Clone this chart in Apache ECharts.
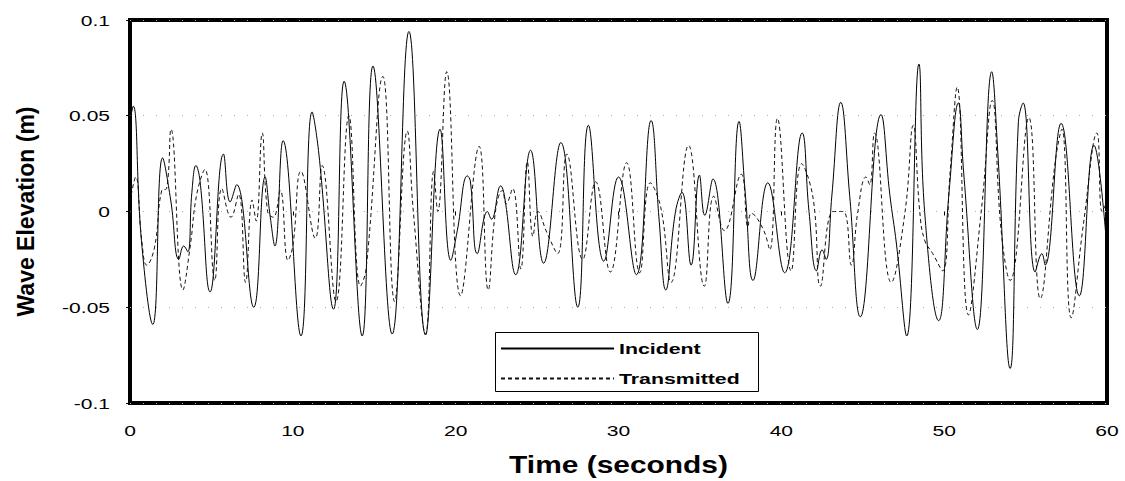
<!DOCTYPE html>
<html>
<head>
<meta charset="utf-8">
<script src="https://cdn.jsdelivr.net/npm/echarts@6/dist/echarts.min.js"></script>
<style>
html,body{margin:0;padding:0;background:#fff;}
#chart{width:1125px;height:481px;}
</style>
</head>
<body>
<div id="chart"></div>
<script>
// ---- data (time in seconds, wave elevation in m) ----
const xTicks = [0, 10, 20, 30, 40, 50, 60];
const yTicks = [-0.1, -0.05, 0, 0.05, 0.1];
const seriesNames = ['Incident', 'Transmitted'];

const incident = [
  [0.0,0.048],[0.2,0.055],[0.7,-0.015],[1.4,-0.059],[2.0,0.028],[2.5,0.006],[3.0,-0.025],[3.3,-0.018],
  [3.55,-0.021],[3.8,0.010],[4.05,0.024],[4.3,0.016],[4.92,-0.042],[5.74,0.030],[6.15,0.005],[6.55,0.014],
  [7.6,-0.050],[8.3,0.018],[8.6,-0.002],[8.9,-0.018],[9.4,0.037],[10.5,-0.065],[11.18,0.052],[11.6,0.030],
  [12.5,-0.051],[13.15,0.068],[14.26,-0.065],[14.92,0.076],[16.1,-0.064],[17.13,0.094],[18.15,-0.0645],
  [19.04,0.043],[19.7,-0.0255],[20.1,-0.010],[20.72,0.0186],[20.9,0.016],[21.33,-0.022],[21.95,0.0],
  [22.2,-0.004],[22.77,0.0134],[23.0,0.008],[23.69,-0.033],[24.6,0.032],[25.4,-0.027],[26.46,0.036],
  [27.5,-0.050],[28.15,0.045],[29.1,-0.026],[30.0,0.018],[31.1,-0.033],[32.0,0.0475],[32.5,-0.005],
  [32.9,-0.041],[33.5,0.0],[33.9,0.010],[34.46,-0.028],[34.97,0.019],[35.3,-0.002],[35.8,0.017],
  [36.72,-0.048],[37.4,0.047],[37.8,0.008],[38.26,-0.036],[39.17,0.015],[40.2,-0.032],[41.28,0.041],
  [41.7,0.0],[42.16,-0.031],[42.5,-0.020],[42.75,-0.025],[43.1,0.008],[43.65,0.057],[44.2,0.008],
  [44.85,-0.055],[46.12,0.0506],[46.66,0.009],[47.07,-0.017],[47.7,-0.065],[48.45,0.077],[48.8,0.0],
  [49.66,-0.057],[50.3,0.010],[50.87,0.0567],[51.2,0.020],[52.04,-0.0616],[52.92,0.073],[53.3,0.030],
  [54.05,-0.082],[54.56,0.047],[54.85,0.0567],[55.59,-0.0316],[56.0,-0.022],[56.2,-0.028],[57.18,0.046],
  [58.3,-0.044],[59.2,0.0345],[60.0,-0.020]
];

const transmitted = [
  [0.0,0.005],[0.35,0.018],[0.72,-0.015],[1.03,-0.028],[1.5,-0.019],[1.95,0.011],[2.25,0.012],[2.52,0.043],
  [3.25,-0.041],[3.7,-0.018],[4.1,0.009],[4.6,0.022],[5.2,-0.036],[5.64,0.012],[6.2,-0.003],[6.67,0.009],
  [7.1,-0.037],[7.5,0.006],[7.75,-0.005],[8.12,0.041],[8.45,0.0],[8.8,-0.003],[9.23,0.011],[9.7,-0.0255],
  [10.0,-0.018],[10.5,0.021],[11.38,-0.014],[11.8,0.024],[12.65,-0.047],[13.44,0.050],[14.15,-0.039],
  [14.5,-0.030],[15.53,0.0705],[16.25,-0.047],[17.03,0.042],[17.4,0.0],[18.15,-0.064],[18.65,0.021],
  [18.9,0.0],[19.45,0.073],[20.3,-0.044],[21.44,0.034],[22.0,-0.041],[22.46,0.001],[22.87,0.011],
  [23.1,0.004],[23.5,0.012],[24.0,-0.030],[24.4,0.026],[24.75,-0.013],[25.05,0.0],[25.6,-0.011],
  [26.26,-0.022],[26.83,0.030],[27.8,-0.025],[28.6,0.0155],[29.5,-0.0316],[30.5,0.0255],[31.3,-0.032],
  [31.95,0.015],[32.6,0.002],[33.23,-0.037],[34.3,0.0345],[35.27,-0.039],[35.85,0.008],[36.5,-0.010],
  [37.54,0.0195],[37.95,-0.008],[38.15,-0.001],[38.87,-0.009],[39.29,-0.020],[39.76,0.0486],[40.6,-0.031],
  [41.24,0.025],[41.95,0.007],[42.4,-0.039],[43.18,0.0],[43.8,0.0],[44.3,-0.028],[44.7,0.0],[45.2,0.018],
  [45.43,0.014],[45.72,0.041],[46.75,-0.037],[47.6,0.0],[48.1,0.045],[48.5,0.0],[48.8,-0.015],[49.3,-0.022],
  [49.9,-0.031],[50.36,0.020],[50.8,0.065],[51.49,-0.054],[52.3,0.002],[52.95,0.058],[53.5,-0.010],
  [54.05,-0.036],[55.2,0.049],[55.9,-0.0455],[56.82,0.026],[57.23,0.043],[57.8,-0.0555],[58.56,-0.006],
  [59.38,0.041],[59.7,0.0],[60.0,0.005]
];

const FONT = "'Liberation Sans', Arial, sans-serif";
const chart = echarts.init(document.getElementById('chart'), null, {renderer: 'svg'});

chart.setOption({
  animation: false,
  backgroundColor: '#fff',
  grid: {left: 130, right: 18, top: 20, bottom: 76, show: true, borderColor: '#000', borderWidth: 4, backgroundColor: 'transparent'},
  xAxis: {
    type: 'value', min: xTicks[0], max: xTicks[xTicks.length - 1], interval: xTicks[1] - xTicks[0],
    name: 'Time (seconds)', nameLocation: 'middle', nameGap: 50,
    nameTextStyle: {fontFamily: FONT, fontSize: 23, fontWeight: 'bold', color: '#000'},
    axisLine: {show: false},
    axisTick: {show: true, length: 4, lineStyle: {color: '#000', width: 1}},
    axisLabel: {margin: 20, fontFamily: FONT, fontSize: 15, color: '#000'},
    splitLine: {show: false}
  },
  yAxis: {
    type: 'value', min: yTicks[0], max: yTicks[yTicks.length - 1], interval: yTicks[1] - yTicks[0],
    name: 'Wave Elevation (m)', nameLocation: 'middle', nameGap: 93,
    nameTextStyle: {fontFamily: FONT, fontSize: 23, fontWeight: 'bold', color: '#000'},
    axisLine: {show: false},
    axisTick: {show: true, length: 4, lineStyle: {color: '#000', width: 1}},
    axisLabel: {margin: 20, fontFamily: FONT, fontSize: 15, color: '#000',
      formatter: v => String(+v.toFixed(2))},
    splitLine: {show: true, lineStyle: {color: '#aaa', width: 1, type: [1, 12]}}
  },
  legend: {
    data: seriesNames, orient: 'vertical', left: 500, top: 341, padding: 0,
    itemWidth: 113, itemHeight: 14, itemGap: 15,
    itemStyle: {opacity: 0},
    textStyle: {fontFamily: FONT, fontSize: 15, fontWeight: 'bold', color: '#000'}
  },
  graphic: [{
    type: 'rect', z: 3, silent: true,
    shape: {x: 495.5, y: 332.5, width: 263, height: 59},
    style: {fill: '#fff', stroke: '#000', lineWidth: 1}
  }],
  series: [
    {name: seriesNames[0], type: 'line', data: incident, symbol: 'none', smooth: 0.45, z: 2,
     lineStyle: {color: '#000', width: 1}, itemStyle: {color: '#000'}},
    {name: seriesNames[1], type: 'line', data: transmitted, symbol: 'none', smooth: 0.45, z: 2,
     lineStyle: {color: '#111', width: 1, type: [4, 3]}, itemStyle: {color: '#111'}}
  ]
});

// The reference picture is horizontally stretched: widen the horizontal texts to match.
function stretchTexts() {
  document.querySelectorAll('#chart svg text').forEach(t => {
    if (t.getAttribute('textLength')) return;
    const s = (t.textContent || '').trim();
    if (!s || s === 'Wave Elevation (m)') return;
    let f = 1.4;
    if (s === 'Time (seconds)') f = 1.3;
    if (s === 'Incident' || s === 'Transmitted') f = 1.42;
    const w = t.getComputedTextLength();
    if (w > 0) {
      t.setAttribute('textLength', (w * f).toFixed(1));
      t.setAttribute('lengthAdjust', 'spacingAndGlyphs');
    }
  });
}
stretchTexts();
chart.on('finished', stretchTexts);
[0, 50, 200, 500].forEach(d => setTimeout(stretchTexts, d));
</script>
</body>
</html>
